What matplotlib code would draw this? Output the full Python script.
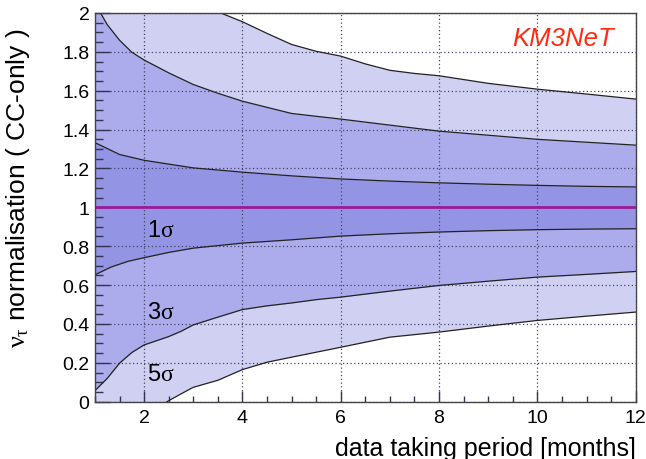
import matplotlib
matplotlib.use("Agg")
import matplotlib.pyplot as plt
from matplotlib.ticker import MultipleLocator
import numpy as np

plt.rcParams['font.family'] = ['Liberation Sans', 'DejaVu Sans']
plt.rcParams['mathtext.fontset'] = 'custom'
plt.rcParams['mathtext.rm'] = 'Liberation Serif'
plt.rcParams['mathtext.it'] = 'Liberation Serif'

# ---- data ----
x5_up = [1, 2, 3, 3.5, 4, 4.5, 5, 5.5, 6, 6.5, 7, 7.5, 8, 9, 10, 11, 12]
y5_up = [3.0, 2.4, 2.12, 2.006, 1.955, 1.895, 1.838, 1.803, 1.778, 1.738, 1.705, 1.689, 1.677, 1.638, 1.608, 1.583, 1.557]

x3_up = [1, 1.25, 1.5, 1.75, 2, 2.5, 3, 3.5, 4, 5, 6, 7, 8, 9, 10, 11, 12]
y3_up = [2.05, 1.94, 1.86, 1.798, 1.758, 1.692, 1.632, 1.587, 1.546, 1.483, 1.454, 1.423, 1.392, 1.371, 1.35, 1.335, 1.32]

x1_up = [1, 1.5, 2, 3, 4, 5, 6, 7, 8, 9, 10, 11, 12]
y1_up = [1.333, 1.272, 1.242, 1.203, 1.181, 1.162, 1.146, 1.135, 1.126, 1.119, 1.113, 1.108, 1.105]

x1_lo = [1, 1.33, 1.67, 2, 2.5, 3, 4, 5, 6, 7, 8, 9, 10, 11, 12]
y1_lo = [0.653, 0.693, 0.722, 0.741, 0.768, 0.790, 0.816, 0.833, 0.852, 0.864, 0.873, 0.880, 0.885, 0.888, 0.890]

x3_lo = [1, 1.25, 1.5, 1.75, 2, 2.5, 2.75, 3, 3.5, 4, 4.5, 5, 5.5, 6, 7, 8, 9, 10, 11, 12]
y3_lo = [0.057, 0.12, 0.198, 0.253, 0.292, 0.335, 0.362, 0.395, 0.435, 0.474, 0.493, 0.508, 0.525, 0.538, 0.569, 0.598, 0.620, 0.641, 0.655, 0.670]

x5_lo = [1, 2, 2.5, 2.75, 3, 3.5, 4, 4.5, 5, 6, 7, 8, 9, 10, 11, 12]
y5_lo = [-0.35, -0.075, 0.005, 0.04, 0.074, 0.11, 0.165, 0.203, 0.229, 0.28, 0.332, 0.358, 0.389, 0.418, 0.44, 0.461]

nominal = 1.0
band_labels = ['1σ', '3σ', '5σ']
band_label_y = [0.881, 0.463, 0.141]

xs = np.linspace(1, 12, 441)
def interp(x, y):
    return np.interp(xs, x, y)

fig = plt.figure(figsize=(6.46, 4.60), dpi=100)
ax = fig.add_axes([0.147, 0.1246, 0.837, 0.845])

c_light = '#d0d0f3'
c_mid = '#acacec'
c_dark = '#9494e4'

ax.fill_between(xs, interp(x5_lo, y5_lo), interp(x5_up, y5_up), color=c_light, lw=0, zorder=1)
ax.fill_between(xs, interp(x3_lo, y3_lo), interp(x3_up, y3_up), color=c_mid, lw=0, zorder=1.1)
ax.fill_between(xs, interp(x1_lo, y1_lo), interp(x1_up, y1_up), color=c_dark, lw=0, zorder=1.2)

for x, y in [(x5_up, y5_up), (x3_up, y3_up), (x1_up, y1_up), (x1_lo, y1_lo), (x3_lo, y3_lo), (x5_lo, y5_lo)]:
    ax.plot(x, y, color='#222222', lw=0.9, zorder=3)

ax.axhline(nominal, color='#9a1a9a', lw=2.0, zorder=4)

ax.set_xlim(1, 12)
ax.set_ylim(0, 2)
ax.xaxis.set_minor_locator(MultipleLocator(0.5))
ax.yaxis.set_minor_locator(MultipleLocator(0.05))
ax.set_yticks([0, 0.2, 0.4, 0.6, 0.8, 1.0, 1.2, 1.4, 1.6, 1.8, 2.0])
ax.set_yticklabels(['0', '0.2', '0.4', '0.6', '0.8', '1', '1.2', '1.4', '1.6', '1.8', '2'])
ax.set_xticks([2, 4, 6, 8, 10, 12])
ax.set_xticklabels(['2', '4', '6', '8', '10', '12'])

ax.grid(True, which='major', linestyle=(0, (1, 2)), color='#44446a', lw=0.9, zorder=2.5)
ax.set_axisbelow(False)
ax.tick_params(axis='x', which='major', direction='in', length=8, width=1, labelsize=14, color='#333355', pad=5)
ax.tick_params(axis='x', which='minor', direction='in', length=4.3, width=1, color='#333355')
ax.tick_params(axis='y', which='major', direction='in', length=10.8, width=1, labelsize=14, color='#333355', pad=4)
ax.tick_params(axis='y', which='minor', direction='in', length=5.5, width=1, color='#333355')
for s in ax.spines.values():
    s.set_color('#444444')
    s.set_linewidth(1.0)
    s.set_zorder(6)

ax.set_xlabel('data taking period [months]', fontsize=18, ha='right', x=1.0)
ax.xaxis.set_label_coords(1.0, -0.087)
ax.xaxis.label.set_va('top')
ax.set_ylabel(r'$\nu_{\tau}$ normalisation ( CC-only )', fontsize=19)
ax.yaxis.set_label_coords(-0.117, 0.552)

ax.text(0.866, 0.935, 'KM3NeT', transform=ax.transAxes, color='#ff2a10', style='italic',
        fontsize=18.5, ha='center', va='center', zorder=7)

for lab, yv in zip(band_labels, band_label_y):
    ax.text(2.06, yv, lab[0] + r'$\sigma$', fontsize=17, va='center', ha='left', zorder=7)

fig.savefig('out.png', dpi=100)
